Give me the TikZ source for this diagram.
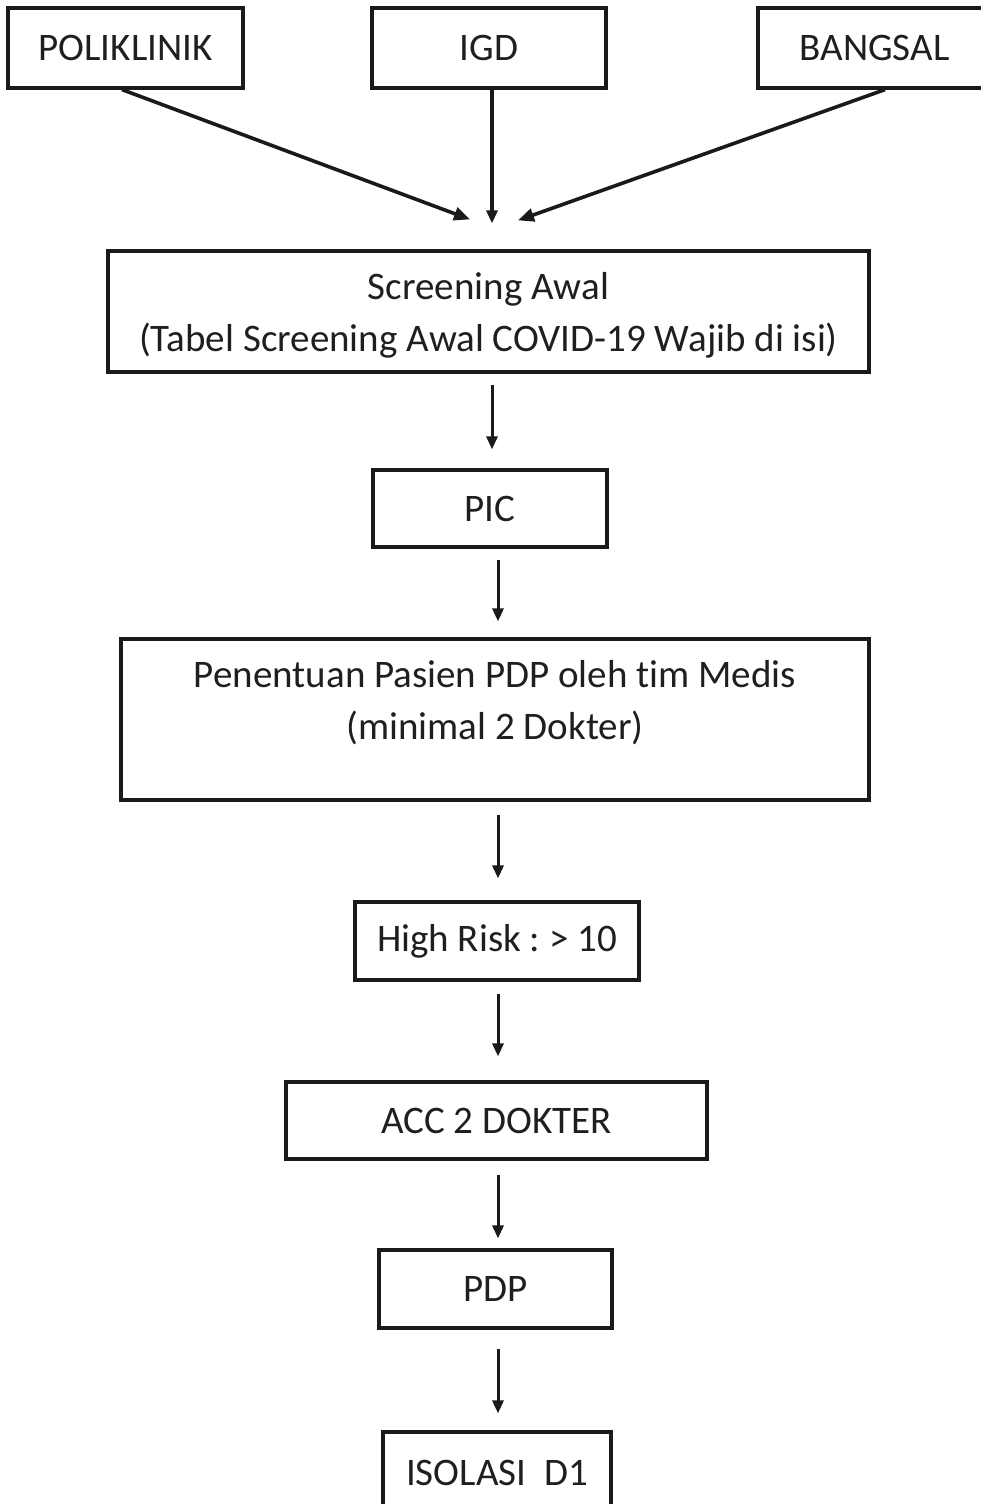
\documentclass[tikz,border=0pt]{standalone}
\usepackage{fontspec}
\setmainfont{Carlito}[Ligatures=NoCommon]
\usetikzlibrary{arrows.meta}
\definecolor{ink}{HTML}{1A1A1A}
\definecolor{txt}{HTML}{1F1F1F}
\frenchspacing
\begin{document}
\begin{tikzpicture}[x=1pt,y=-1pt,
  box/.style={draw=ink,line width=3.2pt,rectangle,inner sep=0pt,
    text=txt,font=\fontsize{39}{52}\selectfont,align=center},
  flow/.style={draw=ink,line width=3pt,
    -{Triangle[length=13pt,width=11pt]}},
  feed/.style={draw=ink,line width=3.6pt,
    -{Triangle[length=16pt,width=13pt]}},
  lbl/.style={text=txt,font=\fontsize{39}{52}\selectfont,align=center,inner sep=0pt}]
\useasboundingbox (0,0) rectangle (981,1504);
\fill[white] (0,0) rectangle (981,1504);

% sources
\node[box,minimum width=235pt,minimum height=80pt] (pol) at (125.5,48) {POLIKLINIK};
\node[box,minimum width=234pt,minimum height=80pt] (igd) at (489,48) {IGD};
\node[box,minimum width=227pt,minimum height=80pt] (ban) at (871.5,48) {\hspace*{6pt}BANGSAL};

% main chain
\node[box,minimum width=761pt,minimum height=121pt] (scr) at (488.5,311.5) {};
\node[lbl] (scrT) at (488.5,315.5)
  {Screening Awal\\(Tabel Screening Awal COVID-19 Wajib di isi)};
\node[box,minimum width=234pt,minimum height=77pt] (pic) at (490,508.5) {PIC};
\node[box,minimum width=748pt,minimum height=161pt] (pen) at (495,719.5) {};
\node[lbl] (penT) at (495,703) {Penentuan Pasien PDP oleh tim Medis\\(minimal 2 Dokter)};
\node[box,minimum width=284pt,minimum height=78pt] (hr) at (497,941) {High Risk : > 10};
\node[box,minimum width=421pt,minimum height=77pt] (acc) at (496.5,1120.5) {ACC 2 DOKTER};
\node[box,minimum width=233pt,minimum height=78pt] (pdp) at (495.5,1289) {PDP};
\node[box,minimum width=228pt,minimum height=88pt] (iso) at (497,1476) {};
\node[lbl] (isoT) at (497,1473) {ISOLASI\ \ D1};

% inflow into screening
\draw[feed] ([xshift=-3.5pt]pol.south) -- ([xshift=-18.5pt,yshift=30pt]scr.north);
\draw[flow,line width=3.2pt] ([xshift=3pt]igd.south) -- ([xshift=3.5pt,yshift=26pt]scr.north);
\draw[feed] ([xshift=13.5pt]ban.south) -- ([xshift=29.5pt,yshift=29pt]scr.north);

% vertical steps
\coordinate (xa) at (492,0);
\coordinate (xb) at (498,0);
\draw[flow,shorten <=11pt,shorten >=19pt] (scr.south -| xa) -- (pic.north -| xa);
\draw[flow,shorten <=11pt,shorten >=16pt] (pic.south -| xb) -- (pen.north -| xb);
\draw[flow,shorten <=13pt,shorten >=22pt] (pen.south -| xb) -- (hr.north -| xb);
\draw[flow,shorten <=12pt,shorten >=24pt] (hr.south -| xb) -- (acc.north -| xb);
\draw[flow,shorten <=14pt,shorten >=10pt] (acc.south -| xb) -- (pdp.north -| xb);
\draw[flow,shorten <=19pt,shorten >=17pt] (pdp.south -| xb) -- (iso.north -| xb);
\end{tikzpicture}
\end{document}
